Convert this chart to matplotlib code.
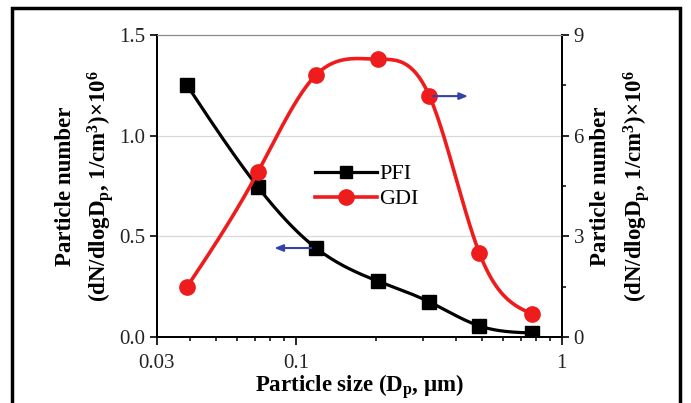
import numpy as np
import matplotlib
matplotlib.use("Agg")
import matplotlib.pyplot as plt
from matplotlib.patches import Rectangle
from matplotlib.ticker import FixedLocator, FixedFormatter, NullFormatter, MultipleLocator

plt.rcParams["font.family"] = ["Liberation Serif", "DejaVu Sans"]
plt.rcParams["mathtext.fontset"] = "custom"
plt.rcParams["mathtext.rm"] = "Liberation Serif"
plt.rcParams["mathtext.bf"] = "Liberation Serif:bold"
plt.rcParams["mathtext.it"] = "Liberation Serif:italic"

# particle size (um)
sizes = [0.039, 0.072, 0.119, 0.203, 0.318, 0.49, 0.77]
# number concentration x10^6
pfi = [1.25, 0.745, 0.442, 0.278, 0.174, 0.055, 0.02]
gdi = [1.5, 4.92, 7.81, 8.28, 7.18, 2.5, 0.69]

x_ticks = [0.03, 0.1, 1]
x_labels = ["0.03", "0.1", "1"]
left_ticks = [0, 0.5, 1.0, 1.5]
left_labels = ["0.0", "0.5", "1.0", "1.5"]


def spline(xs, ys, n=300):
    # natural cubic spline in log10(x) space, just for a smooth line
    x = np.log10(xs)
    y = np.asarray(ys, dtype=float)
    k = len(x)
    h = np.diff(x)
    A = np.zeros((k, k))
    b = np.zeros(k)
    A[0, 0] = A[-1, -1] = 1
    for i in range(1, k - 1):
        A[i, i - 1] = h[i - 1]
        A[i, i] = 2 * (h[i - 1] + h[i])
        A[i, i + 1] = h[i]
        b[i] = 3 * ((y[i + 1] - y[i]) / h[i] - (y[i] - y[i - 1]) / h[i - 1])
    c = np.linalg.solve(A, b)
    xx = np.linspace(x[0], x[-1], n)
    yy = np.empty_like(xx)
    for j, t in enumerate(xx):
        i = min(np.searchsorted(x, t, side="right") - 1, k - 2)
        bi = (y[i + 1] - y[i]) / h[i] - h[i] * (2 * c[i] + c[i + 1]) / 3
        di = (c[i + 1] - c[i]) / (3 * h[i])
        dx = t - x[i]
        yy[j] = y[i] + bi * dx + c[i] * dx ** 2 + di * dx ** 3
    return 10 ** xx, yy


fig = plt.figure(figsize=(6.91, 4.03), dpi=100)
ax = fig.add_axes([0.227, 0.1638, 0.586, 0.7492])
ax2 = ax.twinx()

ax.set_xscale("log")
ax.set_xlim(0.03, 1)
ax.set_ylim(0, 1.5)
ax2.set_ylim(0, 9)

ax.axhline(0.5, color="#d8d8d8", lw=0.9, zorder=0)
ax.axhline(1.0, color="#d8d8d8", lw=0.9, zorder=0)

xs, ys = spline(sizes, pfi)
ax.plot(xs, ys, color="black", lw=2.3, zorder=3)
ax.plot(sizes, pfi, "s", color="black", ms=9.5, zorder=4)
xs, ys = spline(sizes, gdi)
ax2.plot(xs, ys, color="#ee1c1c", lw=2.6, zorder=3)
ax2.plot(sizes, gdi, "o", color="#ee1c1c", ms=11, zorder=4)

h1, = ax.plot([], [], "-s", color="black", lw=2.3, ms=9, label="PFI")
h2, = ax.plot([], [], "-o", color="#ee1c1c", lw=2.6, ms=11, label="GDI")
ax.legend(handles=[h1, h2], loc="upper left", bbox_to_anchor=(0.34, 0.64),
          frameon=False, fontsize=16, handlelength=2.8, handletextpad=0.1,
          labelspacing=0.2)

arrow = dict(arrowstyle="-|>,head_length=0.5,head_width=0.2", color="#3341a8", lw=1.5)
ax.annotate("", xy=(0.081, 0.442), xytext=(0.117, 0.442), arrowprops=arrow, zorder=5)
ax2.annotate("", xy=(0.455, 7.18), xytext=(0.32, 7.18), arrowprops=arrow, zorder=5)

ax.xaxis.set_major_locator(FixedLocator(x_ticks))
ax.xaxis.set_major_formatter(FixedFormatter(x_labels))
ax.xaxis.set_minor_locator(FixedLocator([0.04, 0.05, 0.06, 0.07, 0.08, 0.09,
                                         0.2, 0.3, 0.4, 0.5, 0.6, 0.7, 0.8, 0.9]))
ax.xaxis.set_minor_formatter(NullFormatter())
ax.yaxis.set_major_locator(FixedLocator(left_ticks))
ax.yaxis.set_major_formatter(FixedFormatter(left_labels))
ax2.yaxis.set_major_locator(MultipleLocator(3))
ax2.yaxis.set_minor_locator(MultipleLocator(1.5))

for a in (ax, ax2):
    a.tick_params(which="major", length=5, width=1.2, labelsize=15, colors="black",
                  labelcolor="#222222")
    a.tick_params(which="minor", length=3, width=1.1)
    a.spines["top"].set_color("#888888")
    for s in ("left", "right", "bottom"):
        a.spines[s].set_linewidth(1.3)
ax.tick_params(axis="x", which="major", length=6)
ax.tick_params(axis="x", pad=6)

ax.set_xlabel("Particle size (D$_\\mathbf{p}$, \u03bcm)", fontsize=16.5,
              fontweight="bold", labelpad=0)
ylab = "Particle number\n(dN/dlogD$_\\mathbf{p}$, 1/cm$^\\mathbf{3}$)\u00d710$^\\mathbf{6}$"
ax.set_ylabel(ylab, fontsize=16.5, fontweight="bold", linespacing=1.45)
ax.yaxis.set_label_coords(-0.1, 0.5)
ax2.set_ylabel(ylab, fontsize=16.5, fontweight="bold", linespacing=1.45, rotation=90)
ax2.yaxis.set_label_coords(1.07, 0.5)

fig.patches.append(Rectangle((12 / 691, -0.1), 668 / 691, 1.1 - 8 / 403,
                             transform=fig.transFigure, fill=False, lw=2.5,
                             edgecolor="black"))

fig.savefig("out.png", dpi=100)
